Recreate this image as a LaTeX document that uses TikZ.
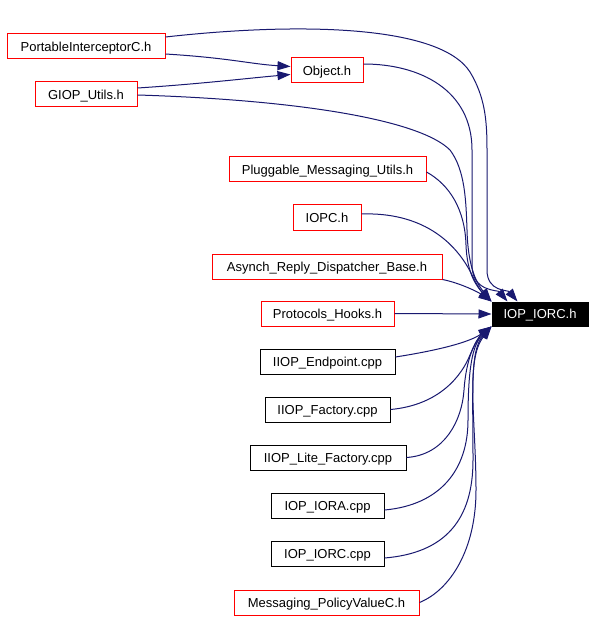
\documentclass[tikz,border=0pt]{standalone}
\usepackage{fontspec}
\setmainfont{Liberation Sans}
\usetikzlibrary{arrows.meta}
\definecolor{edgeblue}{HTML}{191970}
\begin{document}
\begin{tikzpicture}[x=1pt,y=-1pt,
  box/.style={draw, line width=1pt, rectangle, minimum height=25pt, inner sep=0pt, text height=9.4pt, text depth=0pt, font=\fontsize{13}{15}\selectfont, fill=white},
  redbox/.style={box, draw=red},
  blackbox/.style={box, draw=black},
  tgtbox/.style={box, draw=black, fill=black, text=white, minimum height=24pt},
  edge/.style={draw=edgeblue, line width=1pt, -{Triangle[length=13pt,width=9pt]}, edgeblue}
]
\useasboundingbox (0,0) rectangle (596,620);
\fill[white] (0,0) rectangle (596,620);

\node[redbox, minimum width=158pt] (pic) at (86,46.5) {PortableInterceptorC.h};
\node[redbox, minimum width=102pt] (giop) at (86,94.5) {GIOP\_Utils.h};
\node[redbox, minimum width=72pt] (obj) at (327,70.5) {Object.h};
\node[redbox, minimum width=197pt] (plug) at (327.5,169.5) {Pluggable\_Messaging\_Utils.h};
\node[redbox, minimum width=68pt] (iopc) at (327,217.5) {IOPC.h};
\node[redbox, minimum width=230pt] (asyn) at (327,266.5) {Asynch\_Reply\_Dispatcher\_Base.h};
\node[redbox, minimum width=133pt] (prot) at (327.5,313.5) {Protocols\_Hooks.h};
\node[blackbox, minimum width=135pt] (iepc) at (327.5,361.5) {IIOP\_Endpoint.cpp};
\node[blackbox, minimum width=125pt] (ifac) at (327.5,409.5) {IIOP\_Factory.cpp};
\node[blackbox, minimum width=156pt] (ilite) at (328,457.5) {IIOP\_Lite\_Factory.cpp};
\node[blackbox, minimum width=113pt] (iora) at (327.5,505.5) {IOP\_IORA.cpp};
\node[blackbox, minimum width=113pt] (iorcc) at (327.5,553.5) {IOP\_IORC.cpp};
\node[redbox, minimum width=185pt] (mpv) at (326.5,602.5) {Messaging\_PolicyValueC.h};
\node[tgtbox, minimum width=96pt] (tgt) at (540,314) {IOP\_IORC.h};

% edges to Object.h
\path[edge] ([yshift=-7.5pt]pic.east) .. controls (230,58) and (250,64) .. ([yshift=4pt]obj.west);
\path[edge] ([yshift=6.5pt]giop.east) .. controls (200,84) and (250,78) .. ([yshift=-4pt]obj.west);

% top edges
\path[edge] ([yshift=9.5pt]pic.east) .. controls (300,22) and (440,25) .. (470,72)
   .. controls (485,97) and (487,120) .. (487,150) -- (487,270)
   .. controls (487,292) and (508,290) .. ([xshift=26pt]tgt.north west);
\path[edge] ([yshift=6.5pt]obj.east) .. controls (420,64) and (472,90) .. (472,150) -- (472,265)
   .. controls (472,292) and (498,290) .. ([xshift=16pt]tgt.north west);
\path[edge] ([yshift=-0.5pt]giop.east) .. controls (300,100) and (420,120) .. (450,150)
   .. controls (465,170) and (466,200) .. (467,230)
   .. controls (468,270) and (478,285) .. (tgt.north west);
\path[edge] ([yshift=-2.5pt]plug.east) .. controls (450,185) and (465,210) .. (466,245)
   .. controls (467,275) and (478,288) .. (tgt.north west);
\path[edge] ([yshift=3.5pt]iopc.east) .. controls (420,212) and (455,240) .. (472,275)
   .. controls (478,288) and (485,296) .. (tgt.north west);
\path[edge] (asyn.south east) .. controls (460,283) and (478,292) .. (tgt.north west);

% middle
\path[edge] (prot.east) -- (tgt.west);

% bottom edges
\path[edge] ([yshift=4.5pt]iepc.east) .. controls (440,350) and (470,342) .. (tgt.south west);
\path[edge] (ifac.east) .. controls (440,405) and (462,375) .. (470,355)
   .. controls (475,343) and (482,333) .. (tgt.south west);
\path[edge] (ilite.east) .. controls (445,455) and (462,420) .. (464,390)
   .. controls (466,360) and (475,340) .. (tgt.south west);
\path[edge] ([yshift=-4.5pt]iora.east) .. controls (440,505) and (468,470) .. (468,420)
   .. controls (468,370) and (472,345) .. (tgt.south west);
\path[edge] ([yshift=-4.5pt]iorcc.east) .. controls (445,553) and (473,520) .. (473,460)
   .. controls (473,390) and (470,350) .. (tgt.south west);
\path[edge] (mpv.east) .. controls (450,590) and (476,550) .. (476,490)
   .. controls (476,420) and (465,360) .. (tgt.south west);
\end{tikzpicture}
\end{document}
